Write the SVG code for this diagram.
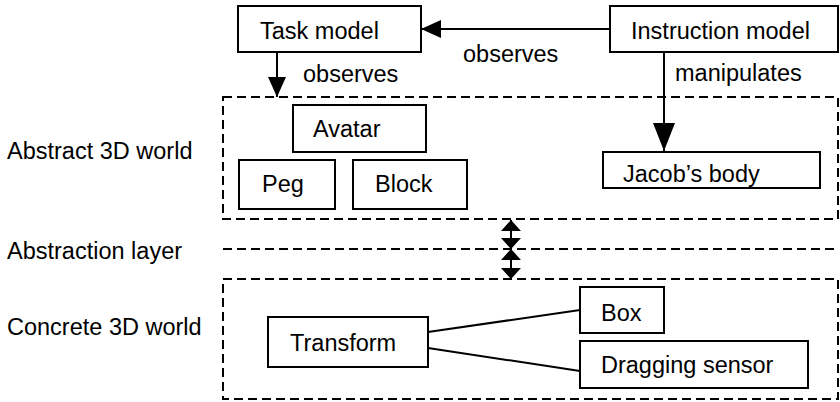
<svg xmlns="http://www.w3.org/2000/svg" width="840" height="402" viewBox="0 0 840 402">
<style>
text{font-family:"Liberation Sans",Arial,sans-serif;font-size:23.5px;fill:#000}
.box{fill:#fff;stroke:#000;stroke-width:2}
.dash{fill:none;stroke:#000;stroke-width:2;stroke-dasharray:9,5}
.ln{fill:none;stroke:#000;stroke-width:2}
</style>
<defs>
<marker id="ah" viewBox="0 0 20 18" refX="20" refY="9" markerWidth="20" markerHeight="18" markerUnits="userSpaceOnUse" orient="auto">
<path d="M0,0 L20,9 L0,18 Z" fill="#000"/>
</marker>
<marker id="ahl" viewBox="0 0 28 22" refX="28" refY="11" markerWidth="28" markerHeight="22" markerUnits="userSpaceOnUse" orient="auto">
<path d="M0,0 L28,11 L0,22 Z" fill="#000"/>
</marker>
<marker id="ahs" viewBox="0 0 11 20" refX="11" refY="10" markerWidth="11" markerHeight="20" markerUnits="userSpaceOnUse" orient="auto-start-reverse">
<path d="M0,0 L11,10 L0,20 Z" fill="#000"/>
</marker>
</defs>
<g id="layer-labels">
<text x="7" y="159">Abstract 3D world</text>
<text x="7" y="259">Abstraction layer</text>
<text x="7" y="335">Concrete 3D world</text>
</g>
<g id="abstract-world"><rect class="dash" x="223" y="97" width="615" height="122"/></g>
<g id="abstraction-layer"><line class="dash" x1="223" y1="249" x2="838" y2="249"/></g>
<g id="concrete-world"><rect class="dash" x="223" y="279" width="615" height="120"/></g>
<g id="connectors">
<line class="ln" x1="610" y1="29" x2="421" y2="29" marker-end="url(#ah)"/>
<line class="ln" x1="277" y1="52" x2="277" y2="97" marker-end="url(#ah)"/>
<line class="ln" x1="664" y1="52" x2="664" y2="151" marker-end="url(#ahl)"/>
<line class="ln" x1="511" y1="220" x2="511" y2="249" marker-start="url(#ahs)" marker-end="url(#ahs)"/>
<line class="ln" x1="511" y1="249" x2="511" y2="279" marker-start="url(#ahs)" marker-end="url(#ahs)"/>
<line class="ln" x1="428" y1="332" x2="580" y2="310"/>
<line class="ln" x1="428" y1="348" x2="580" y2="371"/>
<text x="463" y="62">observes</text>
<text x="303" y="82">observes</text>
<text x="675" y="81">manipulates</text>
</g>
<g id="task-model"><rect class="box" x="238" y="6" width="183" height="46"/><text x="260" y="39">Task model</text></g>
<g id="instruction-model"><rect class="box" x="610" y="6" width="228" height="46"/><text x="631" y="39">Instruction model</text></g>
<g id="avatar"><rect class="box" x="293" y="105" width="133" height="47"/><text x="313" y="137">Avatar</text></g>
<g id="peg"><rect class="box" x="239" y="160" width="96" height="49"/><text x="262" y="192">Peg</text></g>
<g id="block"><rect class="box" x="353" y="160" width="114" height="49"/><text x="375" y="192">Block</text></g>
<g id="jacobs-body"><rect class="box" x="603" y="152" width="217" height="36"/><text x="623" y="182">Jacob’s body</text></g>
<g id="transform"><rect class="box" x="268" y="317" width="160" height="50"/><text x="290" y="351">Transform</text></g>
<g id="box"><rect class="box" x="580" y="287" width="84" height="46"/><text x="601" y="321">Box</text></g>
<g id="dragging-sensor"><rect class="box" x="580" y="341" width="228" height="47"/><text x="601" y="373">Dragging sensor</text></g>
</svg>
